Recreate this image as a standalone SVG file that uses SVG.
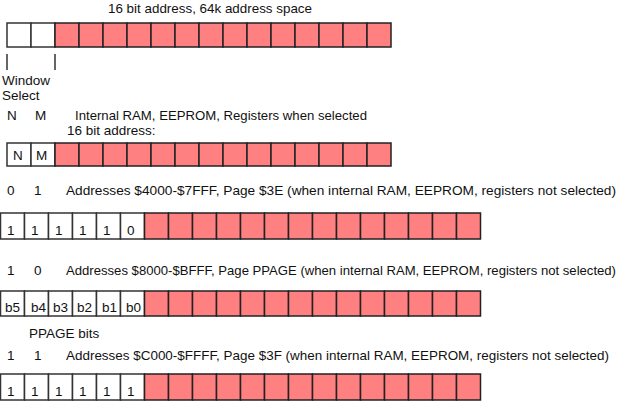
<svg xmlns="http://www.w3.org/2000/svg" width="626" height="402" viewBox="0 0 626 402">
  <style>
    text { font-family: "Liberation Sans", Arial, sans-serif; font-size: 13.5px; fill: #111; }
    .w { fill: #ffffff; stroke: #333; stroke-width: 1.5; }
    .p { fill: #ff8080; stroke: #222; stroke-width: 1.5; }
    .tick { stroke: #333; stroke-width: 1.5; fill: none; }
  </style>
  <defs>
    <!-- one pink address cell for the 16-bit rows (24 wide) -->
    <rect id="pA" class="p" width="24" height="24"/>
    <rect id="pB" class="p" width="24" height="23"/>
  </defs>

  <text x="108" y="13" textLength="204" lengthAdjust="spacingAndGlyphs">16 bit address, 64k address space</text>

  <!-- Row 1: plain 16 bit address -->
  <g id="row-addr">
    <rect class="w" x="7" y="23" width="24" height="24"/>
    <rect class="w" x="31" y="23" width="24" height="24"/>
    <use href="#pA" x="55" y="23"/><use href="#pA" x="79" y="23"/><use href="#pA" x="103" y="23"/><use href="#pA" x="127" y="23"/>
    <use href="#pA" x="151" y="23"/><use href="#pA" x="175" y="23"/><use href="#pA" x="199" y="23"/><use href="#pA" x="223" y="23"/>
    <use href="#pA" x="247" y="23"/><use href="#pA" x="271" y="23"/><use href="#pA" x="295" y="23"/><use href="#pA" x="319" y="23"/>
    <use href="#pA" x="343" y="23"/><use href="#pA" x="367" y="23"/>
  </g>

  <g id="window-select">
    <line class="tick" x1="7" y1="54" x2="7" y2="70"/>
    <line class="tick" x1="55" y1="54" x2="55" y2="70"/>
    <text x="2" y="85">Window</text>
    <text x="2" y="100">Select</text>
  </g>

  <!-- Row 2: internal resources -->
  <text x="7" y="120">N</text>
  <text x="35" y="120">M</text>
  <text x="75" y="120" textLength="292" lengthAdjust="spacingAndGlyphs">Internal RAM, EEPROM, Registers when selected</text>
  <text x="67" y="135">16 bit address:</text>
  <g id="row-internal">
    <rect class="w" x="7" y="143" width="24" height="23"/>
    <rect class="w" x="31" y="143" width="24" height="23"/>
    <text x="13" y="160">N</text>
    <text x="36" y="160">M</text>
    <use href="#pB" x="55" y="143"/><use href="#pB" x="79" y="143"/><use href="#pB" x="103" y="143"/><use href="#pB" x="127" y="143"/>
    <use href="#pB" x="151" y="143"/><use href="#pB" x="175" y="143"/><use href="#pB" x="199" y="143"/><use href="#pB" x="223" y="143"/>
    <use href="#pB" x="247" y="143"/><use href="#pB" x="271" y="143"/><use href="#pB" x="295" y="143"/><use href="#pB" x="319" y="143"/>
    <use href="#pB" x="343" y="143"/><use href="#pB" x="367" y="143"/>
  </g>

  <!-- Row 3: window 01 -->
  <text x="7" y="195">0</text>
  <text x="34" y="195">1</text>
  <text x="66" y="195" textLength="550" lengthAdjust="spacingAndGlyphs">Addresses $4000-$7FFF, Page $3E (when internal RAM, EEPROM, registers not selected)</text>
  <g id="row-page3e">
    <rect class="w" x="0.5" y="213" width="24" height="26"/>
    <rect class="w" x="24.5" y="213" width="24" height="26"/>
    <rect class="w" x="48.5" y="213" width="24" height="26"/>
    <rect class="w" x="72.5" y="213" width="24" height="26"/>
    <rect class="w" x="96.5" y="213" width="24" height="26"/>
    <rect class="w" x="120.5" y="213" width="24" height="26"/>
    <text x="7" y="235">1</text><text x="31" y="235">1</text><text x="55" y="235">1</text>
    <text x="79" y="235">1</text><text x="103" y="235">1</text><text x="127" y="235">0</text>
    <g class="p">
      <rect x="144.5" y="213" width="24" height="26"/><rect x="168.5" y="213" width="24" height="26"/>
      <rect x="192.5" y="213" width="24" height="26"/><rect x="216.5" y="213" width="24" height="26"/>
      <rect x="240.5" y="213" width="24" height="26"/><rect x="264.5" y="213" width="24" height="26"/>
      <rect x="288.5" y="213" width="24" height="26"/><rect x="312.5" y="213" width="24" height="26"/>
      <rect x="336.5" y="213" width="24" height="26"/><rect x="360.5" y="213" width="24" height="26"/>
      <rect x="384.5" y="213" width="24" height="26"/><rect x="408.5" y="213" width="24" height="26"/>
      <rect x="432.5" y="213" width="24" height="26"/><rect x="456.5" y="213" width="24" height="26"/>
    </g>
  </g>

  <!-- Row 4: window 10, PPAGE -->
  <text x="7" y="275">1</text>
  <text x="34" y="275">0</text>
  <text x="66" y="275" style="font-size:13px" textLength="550" lengthAdjust="spacingAndGlyphs">Addresses $8000-$BFFF, Page PPAGE (when internal RAM, EEPROM, registers not selected)</text>
  <g id="row-ppage">
    <rect class="w" x="0.5" y="291" width="24" height="25"/>
    <rect class="w" x="24.5" y="291" width="24" height="25"/>
    <rect class="w" x="48.5" y="291" width="24" height="25"/>
    <rect class="w" x="72.5" y="291" width="24" height="25"/>
    <rect class="w" x="96.5" y="291" width="24" height="25"/>
    <rect class="w" x="120.5" y="291" width="24" height="25"/>
    <text x="5" y="312">b5</text><text x="31" y="312">b4</text><text x="53" y="312">b3</text>
    <text x="77" y="312">b2</text><text x="102" y="312">b1</text><text x="126" y="312">b0</text>
    <g class="p">
      <rect x="144.5" y="291" width="24" height="25"/><rect x="168.5" y="291" width="24" height="25"/>
      <rect x="192.5" y="291" width="24" height="25"/><rect x="216.5" y="291" width="24" height="25"/>
      <rect x="240.5" y="291" width="24" height="25"/><rect x="264.5" y="291" width="24" height="25"/>
      <rect x="288.5" y="291" width="24" height="25"/><rect x="312.5" y="291" width="24" height="25"/>
      <rect x="336.5" y="291" width="24" height="25"/><rect x="360.5" y="291" width="24" height="25"/>
      <rect x="384.5" y="291" width="24" height="25"/><rect x="408.5" y="291" width="24" height="25"/>
      <rect x="432.5" y="291" width="24" height="25"/><rect x="456.5" y="291" width="24" height="25"/>
    </g>
  </g>
  <text x="29" y="338">PPAGE bits</text>

  <!-- Row 5: window 11 -->
  <text x="7" y="360">1</text>
  <text x="34" y="360">1</text>
  <text x="66" y="360" textLength="543" lengthAdjust="spacingAndGlyphs">Addresses $C000-$FFFF, Page $3F (when internal RAM, EEPROM, registers not selected)</text>
  <g id="row-page3f">
    <rect class="w" x="0.5" y="374" width="24" height="26"/>
    <rect class="w" x="24.5" y="374" width="24" height="26"/>
    <rect class="w" x="48.5" y="374" width="24" height="26"/>
    <rect class="w" x="72.5" y="374" width="24" height="26"/>
    <rect class="w" x="96.5" y="374" width="24" height="26"/>
    <rect class="w" x="120.5" y="374" width="24" height="26"/>
    <text x="7" y="396">1</text><text x="31" y="396">1</text><text x="55" y="396">1</text>
    <text x="79" y="396">1</text><text x="103" y="396">1</text><text x="127" y="396">1</text>
    <g class="p">
      <rect x="144.5" y="374" width="24" height="26"/><rect x="168.5" y="374" width="24" height="26"/>
      <rect x="192.5" y="374" width="24" height="26"/><rect x="216.5" y="374" width="24" height="26"/>
      <rect x="240.5" y="374" width="24" height="26"/><rect x="264.5" y="374" width="24" height="26"/>
      <rect x="288.5" y="374" width="24" height="26"/><rect x="312.5" y="374" width="24" height="26"/>
      <rect x="336.5" y="374" width="24" height="26"/><rect x="360.5" y="374" width="24" height="26"/>
      <rect x="384.5" y="374" width="24" height="26"/><rect x="408.5" y="374" width="24" height="26"/>
      <rect x="432.5" y="374" width="24" height="26"/><rect x="456.5" y="374" width="24" height="26"/>
    </g>
  </g>
</svg>
